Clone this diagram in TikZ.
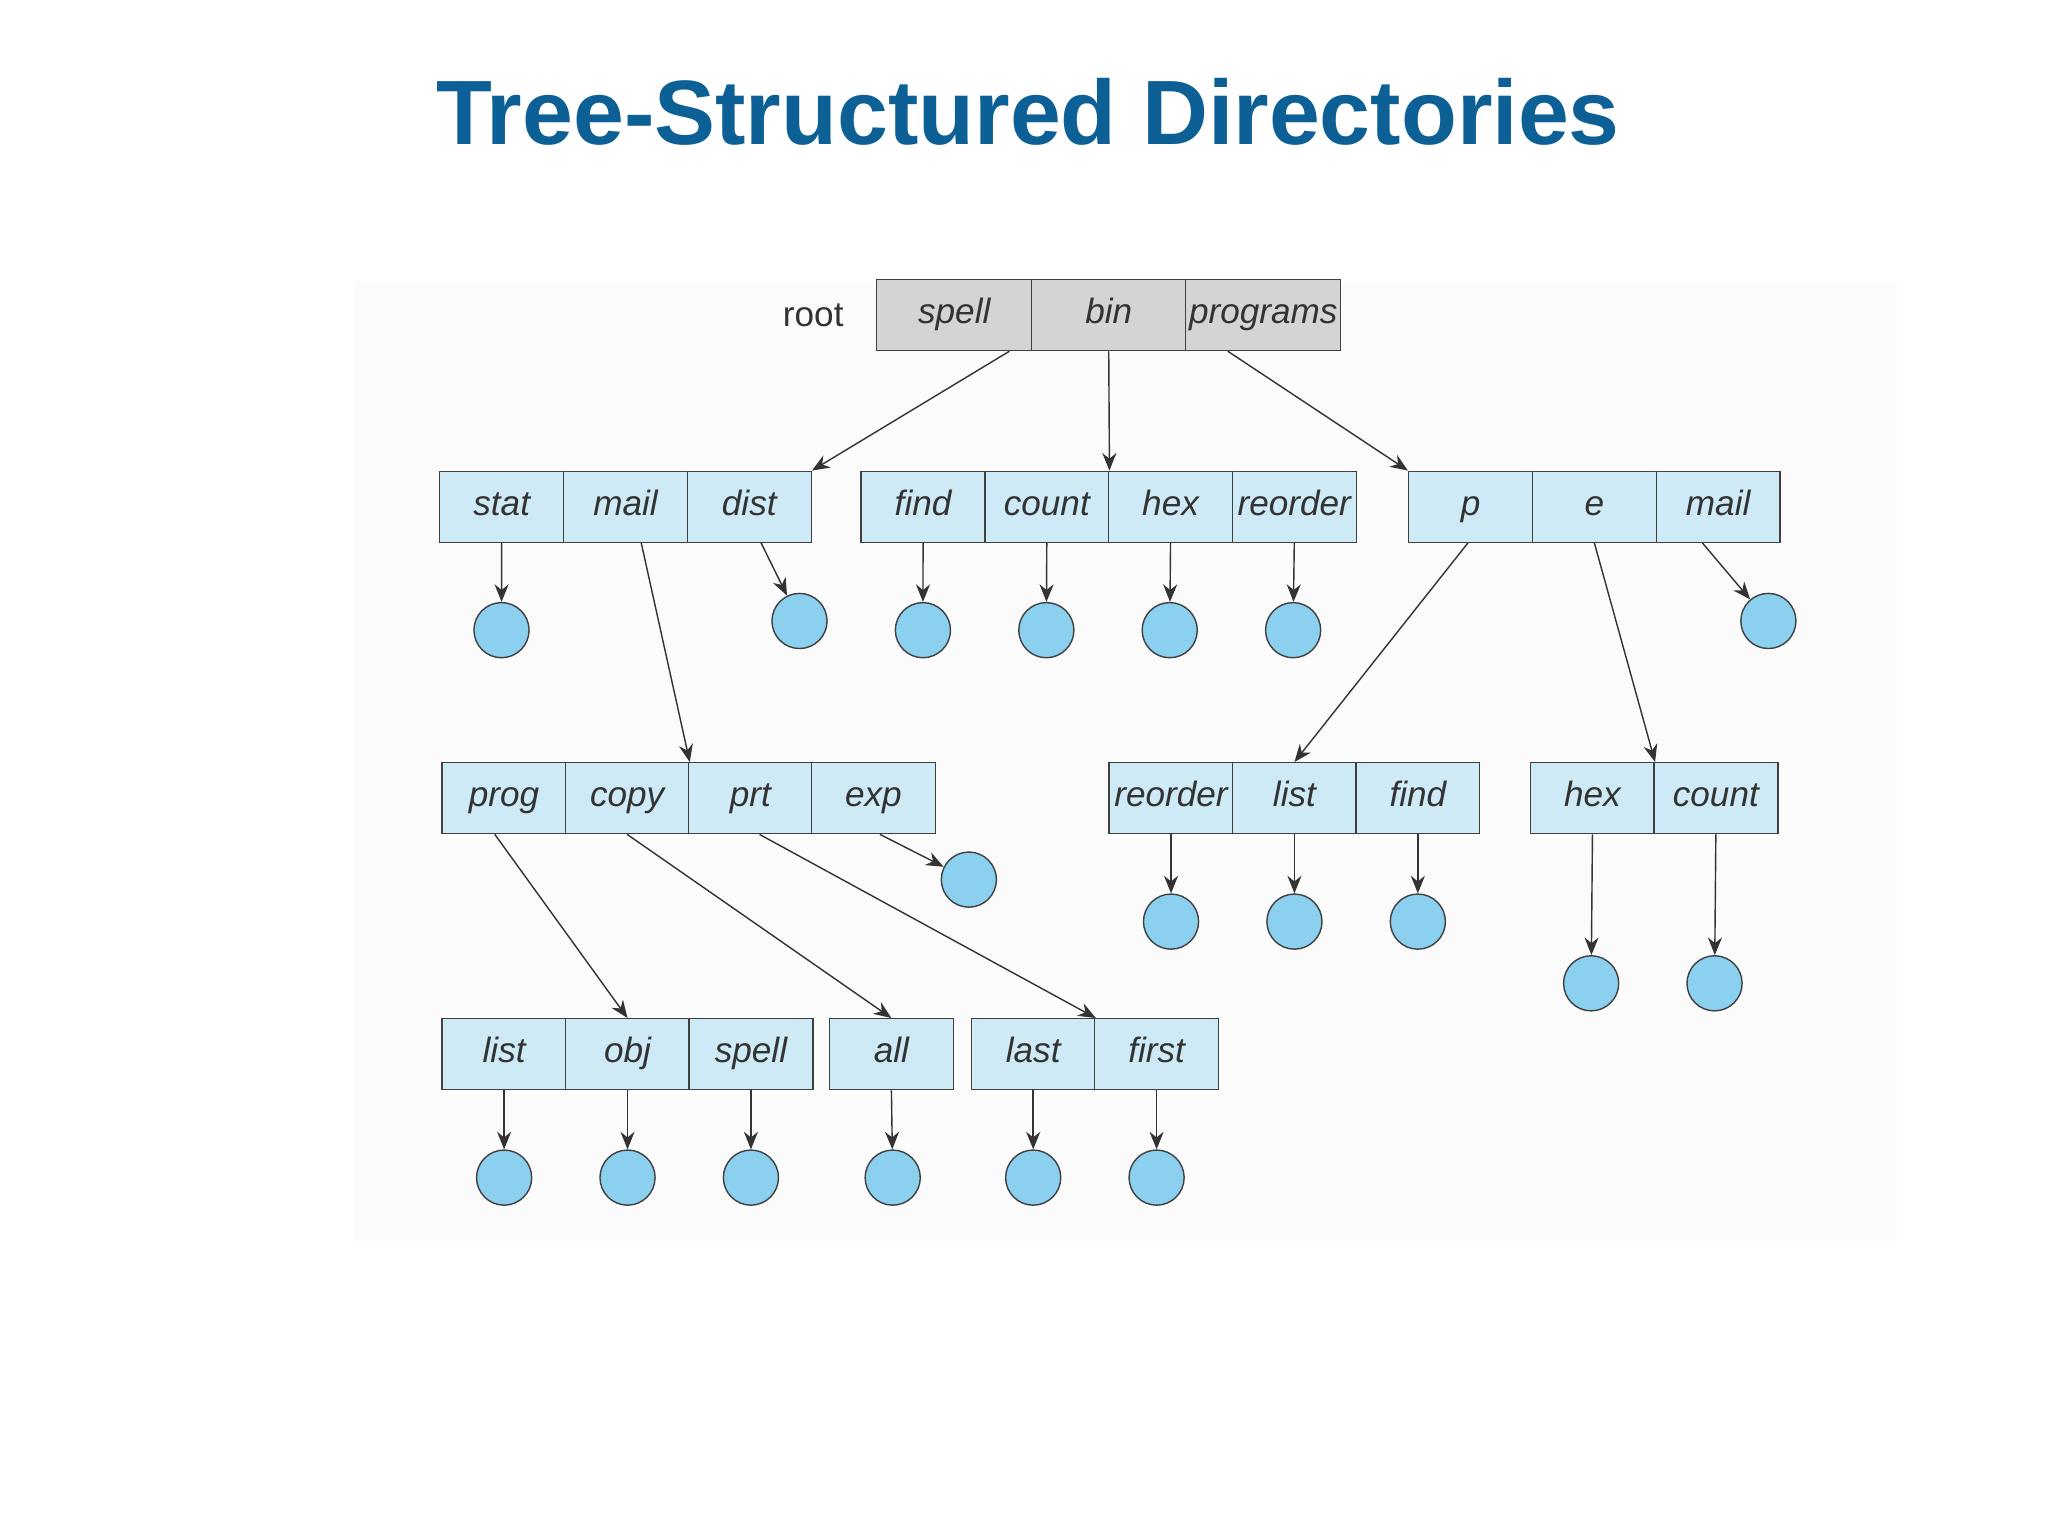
\documentclass[tikz,border=0pt]{standalone}
\usepackage{fontspec}
\setmainfont{Liberation Sans}
\usetikzlibrary{arrows.meta,calc}
\definecolor{titleblue}{RGB}{12,96,150}
\definecolor{cellblue}{RGB}{206,234,246}
\definecolor{ballblue}{RGB}{140,208,240}
\tikzset{
  cell/.style={draw=black!75,fill=cellblue,minimum width=1.238cm,minimum height=0.709cm,
    inner sep=0pt,text height=7pt,text depth=2pt,
    font=\fontsize{10}{12}\selectfont\itshape,text=black!80},
  rcell/.style={cell,fill=black!17,minimum width=1.549cm},
  file/.style={circle,draw=black!75,fill=ballblue,minimum size=0.551cm,inner sep=0pt},
  arr/.style={draw=black!80,-{Stealth[length=5pt,width=4pt]}}
}
\begin{document}
\begin{tikzpicture}[x=0.013128cm,y=-0.013128cm]
  \useasboundingbox (0,0) rectangle (1560,1170);
  \fill[black!1.5] (270,215) rectangle (1445,945);
  \node[font=\fontsize{26}{31}\selectfont\bfseries,text=titleblue] (title) at (783,85) {Tree-Structured Directories};
  % root directory
  \foreach \t [count=\i] in {spell,bin,programs}
    \node[rcell] (r\i) at ({668+(\i-0.5)*117.7},240) {\t};
  \node[anchor=east,font=\fontsize{10}{12}\selectfont,text=black!80] (rootlbl) at (652,240) {root};
  % first level
  \foreach \t [count=\i] in {stat,mail,dist}
    \node[cell] (a\i) at ({335+(\i-0.5)*94.3},386) {\t};
  \foreach \t [count=\i] in {find,count,hex,reorder}
    \node[cell] (b\i) at ({656+(\i-0.5)*94.25},386) {\t};
  \foreach \t [count=\i] in {p,e,mail}
    \node[cell] (c\i) at ({1073+(\i-0.5)*94.3},386) {\t};
  % second level
  \foreach \t [count=\i] in {prog,copy,prt,exp}
    \node[cell] (d\i) at ({337+(\i-0.5)*93.8},608) {\t};
  \foreach \t [count=\i] in {reorder,list,find}
    \node[cell] (e\i) at ({845+(\i-0.5)*94},608) {\t};
  \foreach \t [count=\i] in {hex,count}
    \node[cell] (f\i) at ({1166+(\i-0.5)*94},608) {\t};
  % third level
  \foreach \t [count=\i] in {list,obj,spell}
    \node[cell] (g\i) at ({337+(\i-0.5)*94},803) {\t};
  \node[cell] (h1) at (679,803) {all};
  \foreach \t [count=\i] in {last,first}
    \node[cell] (k\i) at ({740+(\i-0.5)*94},803) {\t};
  % files
  \node[file] (fa1) at (382,480) {};
  \node[file] (fa3) at (609,473) {};
  \foreach \i/\x in {1/703,2/797,3/891,4/985}
    \node[file] (fb\i) at (\x,480) {};
  \node[file] (fc3) at (1347,473) {};
  \node[file] (fd4) at (738,670) {};
  \foreach \i/\x in {1/892,2/986,3/1080}
    \node[file] (fe\i) at (\x,702) {};
  \foreach \i/\x in {1/1212,2/1306}
    \node[file] (ff\i) at (\x,749) {};
  \foreach \i/\x in {1/384,2/478,3/572}
    \node[file] (fg\i) at (\x,897) {};
  \node[file] (fh1) at (680,897) {};
  \foreach \i/\x in {1/787,2/881}
    \node[file] (fk\i) at (\x,897) {};
  % directory links
  \draw[arr] ($(r1.south)+(42,0)$) -- (a3.north east);
  \draw[arr] (r2.south) -- (b2.north east);
  \draw[arr] ($(r3.south)+(-27,0)$) -- (c1.north west);
  \draw[arr] ($(a2.south)+(12,0)$) -- (d2.north east);
  \draw[arr] ($(c1.south)+(-2,0)$) -- (e2.north);
  \draw[arr] (c2.south) -- (f1.north east);
  \draw[arr] ($(d1.south)+(-7,0)$) -- (g2.north);
  \draw[arr] (d2.south) -- (h1.north);
  \draw[arr] ($(d3.south)+(7,0)$) -- (k1.north east);
  % file links
  \draw[arr] (a1.south) -- (fa1);
  \draw[arr] ($(a3.south)+(9,0)$) -- (fa3);
  \foreach \i in {1,...,4} \draw[arr] (b\i.south) -- (fb\i);
  \draw[arr] ($(c3.south)+(-12,0)$) -- (fc3);
  \draw[arr] ($(d4.south)+(5,0)$) -- (fd4);
  \foreach \i in {1,2,3} \draw[arr] (e\i.south) -- (fe\i);
  \foreach \i in {1,2} \draw[arr] (f\i.south) -- (ff\i);
  \foreach \i in {1,2,3} \draw[arr] (g\i.south) -- (fg\i);
  \draw[arr] (h1.south) -- (fh1);
  \foreach \i in {1,2} \draw[arr] (k\i.south) -- (fk\i);
\end{tikzpicture}
\end{document}
